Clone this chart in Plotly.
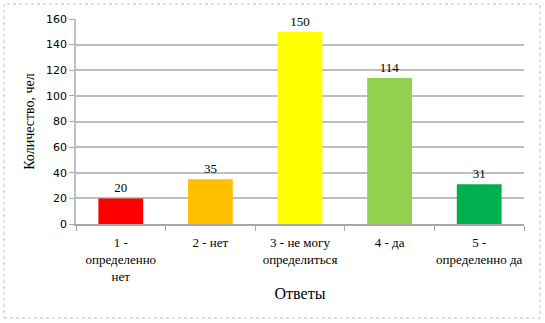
import plotly.graph_objects as go

categories = ["1 -<br>определенно<br>нет", "2 - нет", "3 - не могу<br>определиться", "4 - да", "5 -<br>определенно да"]
values = [20, 35, 150, 114, 31]
colors = ["#FF0000", "#FFC000", "#FFFF00", "#92D050", "#00B050"]
y_ticks = [0, 20, 40, 60, 80, 100, 120, 140, 160]

L, R, T, B = 76, 21, 19, 99
W, H = 545, 323
pw, ph = W - L - R, H - T - B

def px(x):
    return (x - L) / pw

def py(y):
    return (H - B - y) / ph

fig = go.Figure(go.Bar(
    x=categories, y=values, marker=dict(color=colors, line=dict(width=0)),
    width=0.5, text=[str(v) for v in values], textposition="outside",
    textfont=dict(family="Liberation Serif", size=13, color="black"),
    cliponaxis=False,
))

fig.update_layout(
    width=W, height=H, margin=dict(l=L, r=R, t=T, b=B, autoexpand=False),
    paper_bgcolor="white", plot_bgcolor="white", showlegend=False,
    xaxis=dict(
        showline=True, linecolor="#A6A6A6", linewidth=1.5, automargin=False,
        ticks="outside", tickson="boundaries", ticklen=5, tickcolor="#A6A6A6",
        ticklabelstandoff=6, tickangle=0,
        tickfont=dict(family="Liberation Serif", size=13, color="black"),
        title=dict(text="Ответы", font=dict(family="Liberation Serif", size=16, color="black"), standoff=5),
    ),
    yaxis=dict(
        range=[0, 160], tickvals=y_ticks, showgrid=True, gridcolor="#BFBFBF", gridwidth=1.5,
        showline=True, linecolor="#BFBFBF", linewidth=1.5, zeroline=False, automargin=False,
        ticks="outside", ticklen=5, tickcolor="#A6A6A6",
        tickfont=dict(family="DejaVu Sans", size=11, color="black"),
        title=dict(text="Количество, чел", font=dict(family="Liberation Serif", size=14, color="black"), standoff=8),
    ),
    shapes=[dict(type="rect", xref="paper", yref="paper",
                 x0=px(4), x1=px(540), y0=py(318), y1=py(4),
                 line=dict(color="#BFBFBF", width=1, dash="dot"))],
)

fig.write_html("out.html")
